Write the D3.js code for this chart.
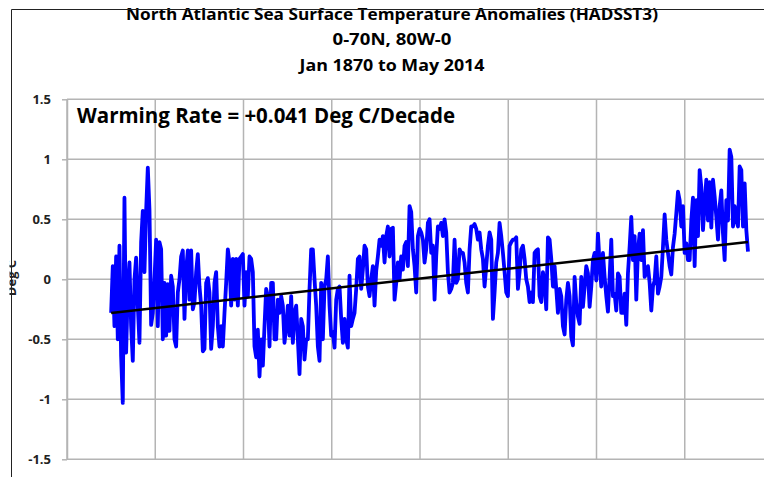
<!DOCTYPE html>
<html>
<head>
<meta charset="utf-8">
<script src="https://cdn.jsdelivr.net/npm/d3@7"></script>
<style>
	body { margin: 0; background: #fff; }
	svg { display: block; }
</style>
</head>
<body>
<script>
// chart text
var titleLines = ["North Atlantic Sea Surface Temperature Anomalies (HADSST3)", "0-70N, 80W-0", "Jan 1870 to May 2014"];
var rateLabel = "Warming Rate = +0.041 Deg C/Decade";
var yLabel = "Deg C";

// axes
var yTicks = [1.5, 1, 0.5, 0, -0.5, -1, -1.5];
var yTickLabels = ["1.5", "1", "0.5", "0", "-0.5", "-1", "-1.5"];
var xGridYears = [1860, 1880, 1900, 1920, 1940, 1960, 1980, 2000, 2020];

// series runs Jan 1870 .. May 2014 (evenly spaced samples)
var firstYear = 1870 + 0 / 12;
var lastYear = 2014 + 4 / 12;
var anomalies = [
	-0.28, 0.11, -0.39, 0.19, -0.50, 0.28, -0.64, -1.03, 0.68, -0.61,
	-0.08, 0.14, -0.39, -0.68, 0.00, 0.18, -0.22, -0.53, 0.31, 0.57,
	0.06, 0.57, 0.93, 0.58, -0.38, -0.28, 0.00, 0.33, -0.39, 0.31,
	0.25, -0.50, -0.03, -0.47, -0.04, -0.43, 0.03, -0.06, -0.50, -0.56,
	-0.11, 0.00, 0.19, 0.24, -0.33, 0.08, 0.24, -0.17, 0.24, -0.25,
	-0.19, 0.06, 0.21, -0.06, -0.22, -0.60, -0.58, -0.03, 0.01, -0.11,
	-0.58, -0.39, -0.03, 0.06, -0.39, -0.56, -0.39, -0.56, -0.28, -0.03,
	0.25, 0.14, -0.22, 0.17, -0.17, 0.17, -0.22, 0.17, 0.19, 0.21,
	-0.22, 0.06, -0.14, 0.19,
	0.17, 0.06, -0.56, -0.65, -0.42, -0.81, -0.50, -0.72, -0.39, -0.08,
	-0.14, -0.56, -0.03, -0.03, -0.50, -0.50, -0.17, -0.28, -0.14, -0.22,
	-0.53, -0.39, -0.22, -0.47, -0.14, -0.53, -0.28, -0.22, -0.50, -0.79,
	-0.33, -0.39, -0.67, -0.50, -0.50, -0.08, 0.25, 0.25, 0.00, -0.22,
	-0.56, -0.68, -0.03, -0.50, -0.06, 0.00, 0.19, -0.22, -0.47, -0.44,
	-0.57, -0.17, -0.08, -0.06, -0.33, -0.53, -0.33, -0.50, -0.57, 0.03,
	-0.39, -0.33, -0.28, -0.08, 0.17, 0.19, -0.08, 0.08, 0.28, 0.25,
	-0.06, -0.14, 0.00, 0.11, -0.22, 0.07, 0.19, 0.33, 0.28, 0.36,
	0.14, 0.36, 0.44, 0.19, 0.42, 0.43, -0.17, -0.03, 0.14, 0.00,
	0.19, 0.08, 0.28, 0.31, 0.11, 0.61,
	0.56, 0.25, 0.11, -0.11, 0.36, 0.42, 0.39, 0.33, 0.14, 0.25,
	0.47, 0.50, 0.22, 0.28, -0.17, 0.19, 0.44, 0.42, 0.47, 0.36,
	0.50, 0.39, 0.06, -0.11, -0.08, -0.03, 0.33, -0.03, 0.00, 0.25,
	0.22, 0.22, 0.14, -0.03, -0.11, 0.25, 0.44, 0.44, 0.46, 0.42,
	0.33, 0.39, 0.25, 0.17, -0.06, 0.11, 0.28, 0.39, 0.33, -0.33,
	-0.11, 0.14, 0.22, 0.47, 0.36, 0.22, 0.06, -0.11, -0.14, 0.28,
	0.31, 0.33, 0.33, 0.35, -0.08, 0.06, 0.25, 0.28, 0.17, 0.00,
	-0.06, -0.19, -0.11, -0.19, 0.22, 0.24, 0.25, -0.14, -0.19, 0.06,
	-0.03, -0.25, 0.35, 0.33, 0.17, -0.06, 0.11, -0.08, -0.28, -0.08,
	-0.14, -0.39, -0.46, -0.17, -0.03, -0.14,
	-0.48, -0.55, 0.02, -0.20, -0.31, -0.37, 0.02, -0.23, -0.06, 0.11,
	0.05, -0.23, -0.06, 0.16, 0.22, -0.01, 0.38, 0.13, -0.06, 0.22,
	0.02, -0.14, -0.27, 0.02, 0.33, -0.14, -0.12, -0.26, 0.05, 0.02,
	-0.28, -0.28, -0.12, -0.38, 0.05, 0.27, 0.52, 0.16, 0.36, -0.17,
	0.24, 0.38, 0.16, 0.41, 0.02, 0.05, 0.11, -0.03, -0.26, -0.06,
	-0.01, 0.19, -0.12, -0.06, 0.02, 0.27, 0.54, 0.33, 0.22, 0.11,
	0.04, 0.27, 0.38, 0.55, 0.73, 0.66, 0.44, 0.61, 0.22, 0.30,
	0.16, 0.16, 0.49, 0.68, 0.11, 0.66, 0.36, 0.91, 0.77, 0.41,
	0.63, 0.83, 0.49, 0.81, 0.43, 0.83, 0.69, 0.52, 0.33, 0.61,
	0.74, 0.38, 0.16, 0.66, 0.49, 1.08, 1.02, 0.44, 0.61, 0.49,
	0.44, 0.94, 0.91, 0.44, 0.80, 0.41, 0.23
];
// linear trend, value at first and last month
var trendEnds = [-0.28, 0.31];

var width = 764, height = 477;
var plot = {left: 67, top: 99.3, right: 773, bottom: 459.3};
var font = "'Open Sans', 'DejaVu Sans', sans-serif";

var svg = d3.select("body").append("svg")
	.attr("width", width)
	.attr("height", height);

var x = d3.scaleLinear().domain([1860, 2020]).range([plot.left, plot.right]);
var y = d3.scaleLinear().domain([-1.5, 1.5]).range([plot.bottom, plot.top]);

var step = (lastYear - firstYear) / (anomalies.length - 1);
var series = anomalies.map(function(v, i){
	return {year: firstYear + i * step, value: v};
});

// grid
var grid = svg.append("g").attr("class", "grid");

grid.selectAll("line.h")
	.data(yTicks)
	.enter()
	.append("line")
	.attr("class", "h")
	.attr("x1", plot.left)
	.attr("x2", width)
	.attr("y1", function(d){ return y(d); })
	.attr("y2", function(d){ return y(d); })
	.attr("stroke", "#b4b4b4")
	.attr("stroke-width", 1.5);

grid.selectAll("line.v")
	.data(xGridYears)
	.enter()
	.append("line")
	.attr("class", "v")
	.attr("x1", function(d){ return x(d); })
	.attr("x2", function(d){ return x(d); })
	.attr("y1", plot.top)
	.attr("y2", plot.bottom)
	.attr("stroke", "#b4b4b4")
	.attr("stroke-width", 1.5);

// y axis
var yAxis = d3.axisLeft(y)
	.tickValues(yTicks)
	.tickSize(5)
	.tickSizeOuter(0)
	.tickPadding(11)
	.tickFormat(function(d, i){ return yTickLabels[i]; });

var gy = svg.append("g")
	.attr("transform", "translate(" + plot.left + ",0)")
	.call(yAxis);

gy.select(".domain").attr("stroke", "#b4b4b4").attr("stroke-width", 1.5);
gy.selectAll(".tick line").attr("stroke", "#b4b4b4").attr("stroke-width", 1.5);
gy.selectAll(".tick text")
	.attr("fill", "#222")
	.style("font-family", font)
	.style("font-size", "13px")
	.style("font-weight", "bold");

// data line
var valueline = d3.line()
	.x(function(d){ return x(d.year); })
	.y(function(d){ return y(d.value); });

svg.append("path")
	.datum(series)
	.attr("fill", "none")
	.attr("stroke", "#0000ff")
	.attr("stroke-width", 3.8)
	.attr("stroke-linejoin", "round")
	.attr("d", valueline);

// trend
svg.append("path")
	.datum([{year: firstYear, value: trendEnds[0]}, {year: lastYear, value: trendEnds[1]}])
	.attr("fill", "none")
	.attr("stroke", "#000")
	.attr("stroke-width", 2.5)
	.attr("d", valueline);

// warming rate label
svg.append("text")
	.attr("x", 77)
	.attr("y", 123)
	.attr("textLength", 378)
	.attr("lengthAdjust", "spacingAndGlyphs")
	.style("font-family", font)
	.style("font-size", "21px")
	.style("font-weight", "bold")
	.attr("fill", "#000")
	.text(rateLabel);

// titles
var titleY = [20, 45, 71];
var titleW = [532, 119, 185];
svg.append("g")
	.selectAll("text")
	.data(titleLines)
	.enter()
	.append("text")
	.attr("x", function(d, i){ return 392 - titleW[i] / 2; })
	.attr("y", function(d, i){ return titleY[i]; })
	.attr("textLength", function(d, i){ return titleW[i]; })
	.attr("lengthAdjust", "spacingAndGlyphs")
	.style("font-family", font)
	.style("font-size", "16.5px")
	.style("font-weight", "bold")
	.attr("fill", "#000")
	.text(function(d){ return d; });

// y label, mostly cut off at the left edge like the original
svg.append("clipPath")
	.attr("id", "ylabclip")
	.append("rect")
	.attr("x", 9.5)
	.attr("y", 0)
	.attr("width", 40)
	.attr("height", height);

svg.append("g")
	.attr("clip-path", "url(#ylabclip)")
	.append("text")
	.attr("transform", "translate(16,278) rotate(-90)")
	.attr("text-anchor", "middle")
	.style("font-family", font)
	.style("font-size", "13px")
	.style("font-weight", "bold")
	.attr("fill", "#222")
	.text(yLabel);

// outer chart frame
svg.append("line")
	.attr("x1", 11.5).attr("x2", width)
	.attr("y1", 9.5).attr("y2", 9.5)
	.attr("stroke", "#222").attr("stroke-width", 1);
svg.append("line")
	.attr("x1", 11.5).attr("x2", 11.5)
	.attr("y1", 9.5).attr("y2", height)
	.attr("stroke", "#222").attr("stroke-width", 1);
</script>
</body>
</html>
